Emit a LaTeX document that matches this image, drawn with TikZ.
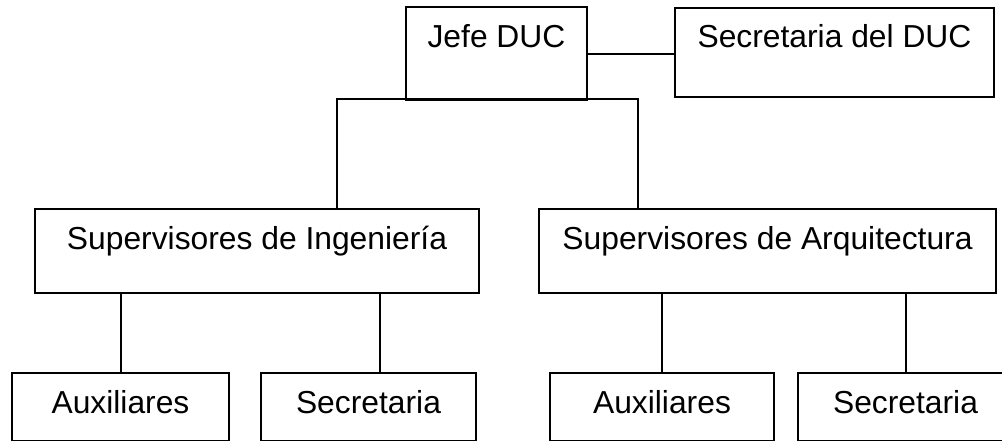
\documentclass[tikz,border=0pt]{standalone}
\usepackage{fontspec}
\setmainfont{Liberation Sans}
\usetikzlibrary{calc}

\begin{document}
\begin{tikzpicture}[x=0.5pt,y=-0.5pt,
		puesto/.style={draw, line width=1pt, inner sep=0pt, anchor=north west, font=\fontsize{15.9}{19}\selectfont},
		enlace/.style={line width=1pt}]
			\useasboundingbox (0,0) rectangle (1002,440);

			\def\TH{20pt}

			\node (jefe) [puesto, minimum width=90.5pt, text height=\TH, text depth=26.5pt] at (405,6) {Jefe DUC};
			\node (secduc) [puesto, minimum width=159.5pt, text height=19.5pt, text depth=25pt] at (674,7) {Secretaria del DUC};

			\node (sing) [puesto, minimum width=222pt, text height=\TH, text depth=22pt] at (34,208) {Supervisores de Ingenier\'ia};
			\node (sarq) [puesto, minimum width=228.5pt, text height=\TH, text depth=22pt] at (538,208) {Supervisores de Arquitectura};

			\node (aux1) [puesto, minimum width=108.5pt, text height=\TH, text depth=14pt] at (11,372) {Auxiliares};
			\node (sec1) [puesto, minimum width=107.5pt, text height=\TH, text depth=14pt] at (260,372) {Secretaria};
			\node (aux2) [puesto, minimum width=112pt, text height=\TH, text depth=14pt] at (549,372) {Auxiliares};
			\node (sec2) [puesto, minimum width=107.5pt, text height=\TH, text depth=14pt] at (797,372) {Secretaria};

			\draw[enlace] (jefe.east) -- (jefe.east -| secduc.west);

			\coordinate (ramaA) at (337,99);
			\coordinate (ramaB) at (638,99);
			\draw[enlace] (ramaA |- sing.north) -- (ramaA) -- (ramaB) -- (ramaB |- sarq.north);

			\draw[enlace] (aux1.north) -- (aux1.north |- sing.south);
			\draw[enlace] ([xshift=5.5pt]sec1.north) -- ([xshift=5.5pt]sec1.north |- sing.south);
			\draw[enlace] (aux2.north) -- (aux2.north |- sarq.south);
			\draw[enlace] (sec2.north) -- (sec2.north |- sarq.south);
		\end{tikzpicture}
\end{document}
